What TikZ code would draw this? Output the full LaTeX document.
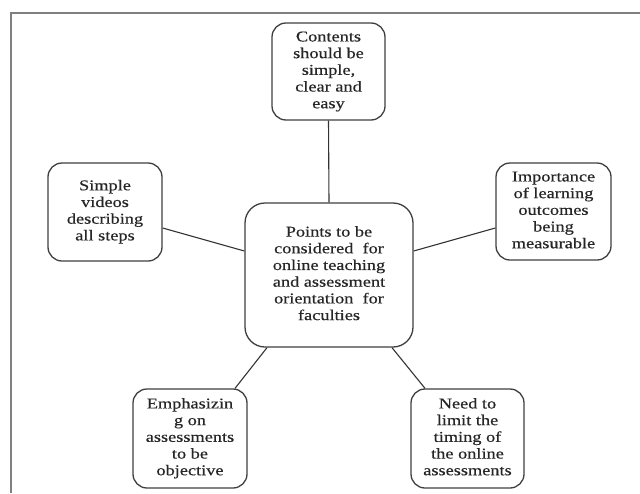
\documentclass[tikz,border=0pt]{standalone}
\usepackage{graphicx}
\usepackage{fontspec}
\setmainfont{Liberation Serif}
\newfontfamily\timesfont{Liberation Serif}[FakeBold=0.35]
\newcommand{\bxtext}[1]{\scalebox{1.22}[1]{\begin{tabular}{@{}c@{}}#1\end{tabular}}}
\begin{document}
\begin{tikzpicture}[x=1pt,y=-1pt,
  bubble/.style={draw=black!75, line width=1.3pt, rounded corners=14pt, fill=white,
    align=center, inner sep=0pt, text=black!85,
    font=\timesfont\fontsize{15}{16.7}\selectfont},
  link/.style={draw=black!80, line width=1.1pt},
  frameline/.style={draw=black!50, line width=2pt}]
\useasboundingbox (0,0) rectangle (640,493);
\fill[white] (0,0) rectangle (640,493);
\coordinate (fa) at (11,493);
\coordinate (fb) at (11,13);
\coordinate (fc) at (640,13);
\draw[frameline] (fa) -- (fb) -- (fc);
\node[bubble, minimum width=113pt, minimum height=97pt] (top) at (328.5,71.5)
  {\bxtext{Contents\\should be\\simple,\\clear and\\easy}};
\node[bubble, minimum width=114pt, minimum height=98pt] (left) at (105,212)
  {\bxtext{Simple\\videos\\describing\\all steps}};
\node[bubble, minimum width=115pt, minimum height=97pt] (right) at (553.5,211.5)
  {\bxtext{Importance\\of learning\\outcomes\\being\\measurable}};
\node[bubble, minimum width=168pt, minimum height=144pt, rounded corners=20pt] (center) at (329,275)
  {\bxtext{Points to be\\considered \ for\\online teaching\\and assessment\\orientation \ for\\faculties}};
\node[bubble, minimum width=114pt, minimum height=99pt] (bl) at (190,438.5)
  {\bxtext{Emphasizin\\g on\\assessments\\to be\\objective}};
\node[bubble, minimum width=113pt, minimum height=99pt] (br) at (467.5,438.5)
  {\bxtext{Need to\\limit the\\timing of\\the online\\assessments}};
\draw[link] (top.south) -- (center.north);
\draw[link] ([yshift=-16pt]left.east) -- ([yshift=24pt]center.west);
\draw[link] ([yshift=24pt]center.east) -- ([yshift=-16.5pt]right.west);
\draw[link] ([xshift=-62pt]center.south) -- ([xshift=45pt]bl.north);
\draw[link] ([xshift=63pt]center.south) -- ([xshift=-42.5pt]br.north);
\end{tikzpicture}
\end{document}
